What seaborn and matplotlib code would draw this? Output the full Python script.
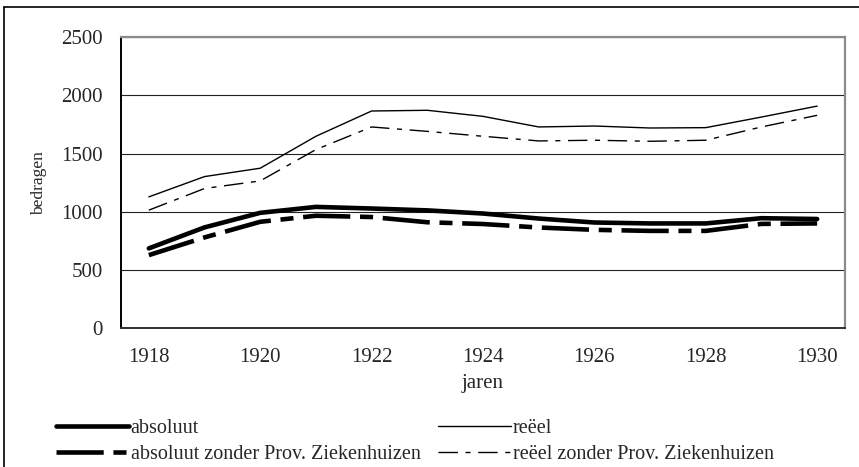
import matplotlib
matplotlib.use("Agg")
import matplotlib.pyplot as plt
from matplotlib.lines import Line2D
import seaborn as sns
import numpy as np
import pandas as pd

# jaren en bedragen
jaren = [1918, 1919, 1920, 1921, 1922, 1923, 1924, 1925, 1926, 1927, 1928, 1929, 1930]
absoluut = [686, 866, 991, 1042, 1028, 1012, 985, 942, 908, 900, 900, 945, 938]
absoluut_zonder = [628, 780, 914, 966, 955, 910, 895, 865, 845, 836, 836, 896, 900]
reeel = [1128, 1302, 1374, 1648, 1865, 1871, 1819, 1728, 1736, 1719, 1722, 1813, 1907]
reeel_zonder = [1014, 1200, 1265, 1534, 1728, 1690, 1648, 1608, 1614, 1605, 1614, 1728, 1828]
y_ticks = [0, 500, 1000, 1500, 2000, 2500]

sns.set_theme(style="white")
plt.rcParams['font.family'] = ['Liberation Serif', 'DejaVu Serif']
plt.rcParams['lines.scale_dashes'] = False

df = pd.DataFrame({"pos": np.arange(len(jaren)), "jaar": jaren,
                   "absoluut": absoluut, "absoluut_zonder": absoluut_zonder,
                   "reeel": reeel, "reeel_zonder": reeel_zonder})

fig = plt.figure(figsize=(8.59, 4.67), dpi=100)
ax = fig.add_axes([121/859, 1-328.3/467, (845-121)/859, (328.3-37)/467])

sns.lineplot(data=df, x="pos", y="absoluut", ax=ax, color="black", lw=3.3,
             solid_capstyle="round", label="absoluut")
sns.lineplot(data=df, x="pos", y="absoluut_zonder", ax=ax, color="black", lw=3.3,
             linestyle=(0, (34, 7, 9.4, 7)), dash_capstyle="butt",
             label="absoluut zonder Prov. Ziekenhuizen")
sns.lineplot(data=df, x="pos", y="reeel", ax=ax, color="black", lw=1.0,
             label="reëel")
sns.lineplot(data=df, x="pos", y="reeel_zonder", ax=ax, color="black", lw=1.0,
             linestyle=(0, (14, 5.5, 3.6, 5.5)), label="reëel zonder Prov. Ziekenhuizen")

ax.set_xlim(-0.5, len(jaren) - 0.5)
ax.set_ylim(0, 2500)
ax.set_yticks(y_ticks)
ax.set_yticklabels([str(v) for v in y_ticks])
ax.set_xticks(np.arange(-0.5, len(jaren) - 1, 2))
ax.set_xticklabels([])
ax.set_xticks(np.arange(0, len(jaren), 2), minor=True)
ax.set_xticklabels([str(j) for j in jaren[::2]], minor=True)
ax.tick_params(axis="x", which="major", direction="out", length=4, width=1, color="#404040")
ax.tick_params(axis="x", which="minor", length=0, pad=14, labelsize=15)
ax.tick_params(axis="y", direction="out", length=5, width=1, color="#606060", pad=8, labelsize=15)
ax.yaxis.grid(True, color="#222222", lw=0.8)
ax.set_axisbelow(True)

for s in ["top", "right"]:
    ax.spines[s].set_color("#8a8a8a")
    ax.spines[s].set_linewidth(1.6)
ax.spines["left"].set_color("black")
ax.spines["left"].set_linewidth(1.4)
ax.spines["bottom"].set_color("#303030")
ax.spines["bottom"].set_linewidth(1.4)

ax.set_xlabel("jaren", fontsize=15, labelpad=5)
ax.set_ylabel("bedragen", fontsize=12.5, labelpad=10)

handles, labels = ax.get_legend_handles_labels()
ax.get_legend().remove()
leg_kw = dict(loc="upper left", frameon=False, fontsize=14.5, handlelength=3.6,
              handletextpad=0.1, labelspacing=0.33, borderpad=0, borderaxespad=0)
fig.legend(handles[:2], labels[:2], bbox_to_anchor=(56/859, 1-419/467), **leg_kw)
fig.legend(handles[2:], labels[2:], bbox_to_anchor=(438/859, 1-419/467), **leg_kw)

# kader van de figuur
fig.add_artist(Line2D([4/859, 1], [1-7/467, 1-7/467], color="black", lw=1.2))
fig.add_artist(Line2D([4/859, 4/859], [0, 1-7/467], color="black", lw=1.2))

fig.savefig("out.png", dpi=100)
